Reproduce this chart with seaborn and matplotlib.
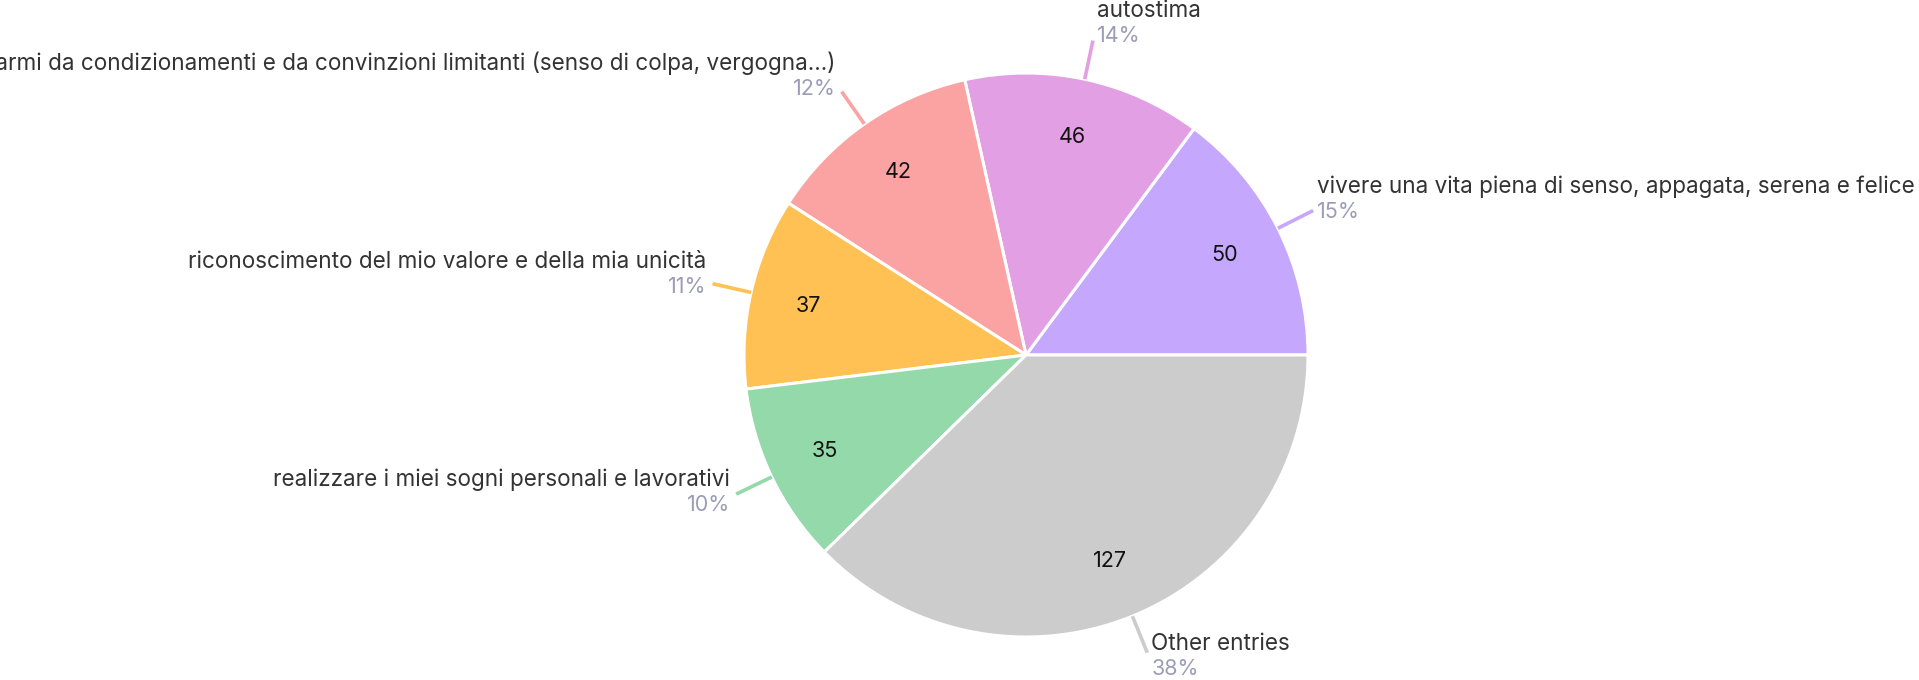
import numpy as np
import matplotlib
matplotlib.use("Agg")
import matplotlib.pyplot as plt
import seaborn as sns

# Data
labels = [
    "vivere una vita piena di senso, appagata, serena e felice",
    "autostima",
    "liberarmi da condizionamenti e da convinzioni limitanti (senso di colpa, vergogna...)",
    "riconoscimento del mio valore e della mia unicità",
    "realizzare i miei sogni personali e lavorativi",
    "Other entries",
]
values = [50, 46, 42, 37, 35, 127]
colors = ["#C5A8FE", "#E29FE3", "#FBA3A3", "#FFC153", "#93D9AA", "#CCCCCC"]

sns.set_theme(style="white")
plt.rcParams['font.family'] = ['Inter', 'DejaVu Sans']

W, H = 1919, 680
fig = plt.figure(figsize=(W / 100, H / 100), dpi=100)
ax = fig.add_axes([0, 0, 1, 1])

cx, cy, r = 1026, H - 355, 282
total = sum(values)

wedges, _, autotexts = ax.pie(
    values, colors=colors, startangle=0, counterclock=True,
    center=(cx, cy), radius=r, frame=True,
    autopct=lambda p: f"{round(p * total / 100)}", pctdistance=0.79,
    wedgeprops=dict(edgecolor="white", linewidth=2.2),
    textprops=dict(fontsize=15.5, color="#111111"),
)
ax.set_xlim(0, W)
ax.set_ylim(0, H)
ax.set_aspect("equal")
ax.axis("off")

pct_color = "#9D9CB8"
for w, lab, v in zip(wedges, labels, values):
    ang = np.deg2rad((w.theta1 + w.theta2) / 2)
    c, s = np.cos(ang), np.sin(ang)
    x0, y0 = cx + r * c, cy + r * s
    x1, y1 = cx + r * 1.14 * c, cy + r * 1.14 * s
    ax.plot([x0, x1], [y0, y1], color=w.get_facecolor(), lw=2.6,
            solid_capstyle="butt")
    if c >= 0:
        ha, tx = "left", x1 + 4
    else:
        ha, tx = "right", x1 - 6
    py = y1 - 6 + 11 * s
    ax.text(tx, py, f"{round(100 * v / total)}%", ha=ha, va="center",
            fontsize=15.5, color=pct_color)
    ax.text(tx, py + 25, lab, ha=ha, va="center", fontsize=16.2,
            color="#333333")

fig.savefig("out.png", dpi=100, facecolor="white")
